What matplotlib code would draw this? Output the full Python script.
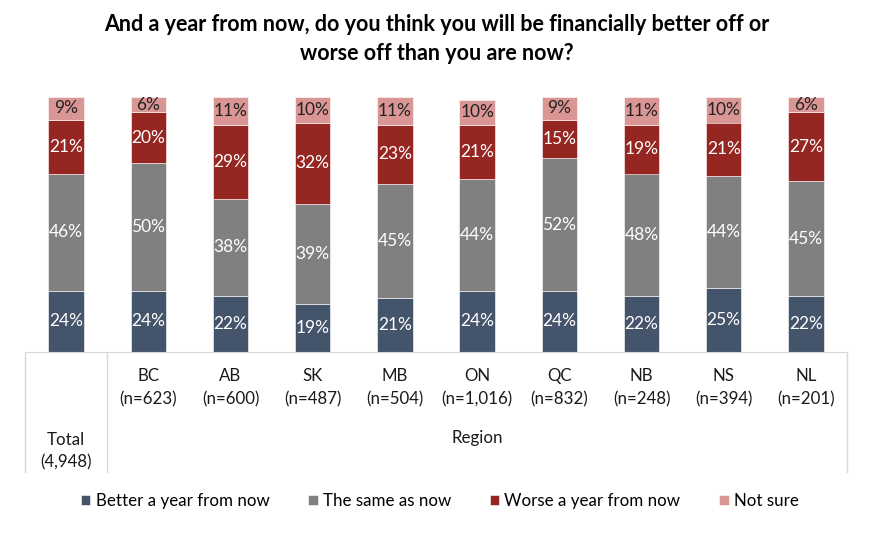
import matplotlib
matplotlib.use("Agg")
import matplotlib.pyplot as plt
import numpy as np

plt.rcParams["font.family"] = ["Lato", "DejaVu Sans"]

groups = ["Total", "BC", "AB", "SK", "MB", "ON", "QC", "NB", "NS", "NL"]
sizes = ["(4,948)", "(n=623)", "(n=600)", "(n=487)", "(n=504)", "(n=1,016)",
         "(n=832)", "(n=248)", "(n=394)", "(n=201)"]
series = ["Better a year from now", "The same as now", "Worse a year from now", "Not sure"]
better = [24, 24, 22, 19, 21, 24, 24, 22, 25, 22]
same = [46, 50, 38, 39, 45, 44, 52, 48, 44, 45]
worse = [21, 20, 29, 32, 23, 21, 15, 19, 21, 27]
not_sure = [9, 6, 11, 10, 11, 10, 9, 11, 10, 6]

colors = ["#44546A", "#808080", "#962622", "#DA9694"]
text_colors = ["white", "white", "white", "#222222"]

W, H = 885, 541
fig = plt.figure(figsize=(W / 100, H / 100), dpi=100)
ax = fig.add_axes([25 / W, 1 - 352 / H, (847 - 25) / W, (352 - 97) / H])

x = np.arange(len(groups))
bottom = np.zeros(len(groups))
for vals, name, col, tcol in zip([better, same, worse, not_sure], series, colors, text_colors):
    vals = np.array(vals, dtype=float)
    ax.bar(x, vals, 0.43, bottom=bottom, color=col, label=name,
           edgecolor="white", linewidth=0.4)
    for xi, b, v in zip(x, bottom, vals):
        ax.text(xi, b + v / 2, f"{int(v)}%", ha="center", va="center",
                color=tcol, fontsize=12.5)
    bottom += vals

ax.set_xlim(-0.5, len(groups) - 0.5)
ax.set_ylim(0, 100)
ax.set_xticks([])
ax.set_yticks([])
for s in ["top", "left", "right"]:
    ax.spines[s].set_visible(False)
ax.spines["bottom"].set_color("#d9d9d9")

# table below the bars
tr = ax.get_xaxis_transform()
line_kw = dict(color="#d9d9d9", linewidth=1, transform=tr, clip_on=False)
ax.plot([-0.5, -0.5], [0, -0.47], **line_kw)
ax.plot([0.5, 0.5], [0, -0.47], **line_kw)
ax.plot([9.5, 9.5], [0, -0.47], **line_kw)

for xi, g, n in zip(x, groups, sizes):
    y = -0.39 if xi == 0 else -0.14
    ax.text(xi, y, f"{g}\n{n}", ha="center", va="center", transform=tr,
            fontsize=12.2, linespacing=1.5, color="#1a1a1a")
ax.text(5.0, -0.337, "Region", ha="center", va="center", transform=tr,
        fontsize=12.2, color="#1a1a1a")

fig.suptitle("And a year from now, do you think you will be financially better off or\n"
             "worse off than you are now?", x=0.494, y=1 - 14 / H, va="top",
             fontsize=15.5, fontweight="bold", linespacing=1.45)

fig.legend(loc="center", bbox_to_anchor=(0.497, 1 - 501 / H), ncol=4, frameon=False,
           fontsize=12.2, handlelength=0.55, handleheight=0.55, handletextpad=0.3,
           columnspacing=2.3)

fig.savefig("out.png", dpi=100)
